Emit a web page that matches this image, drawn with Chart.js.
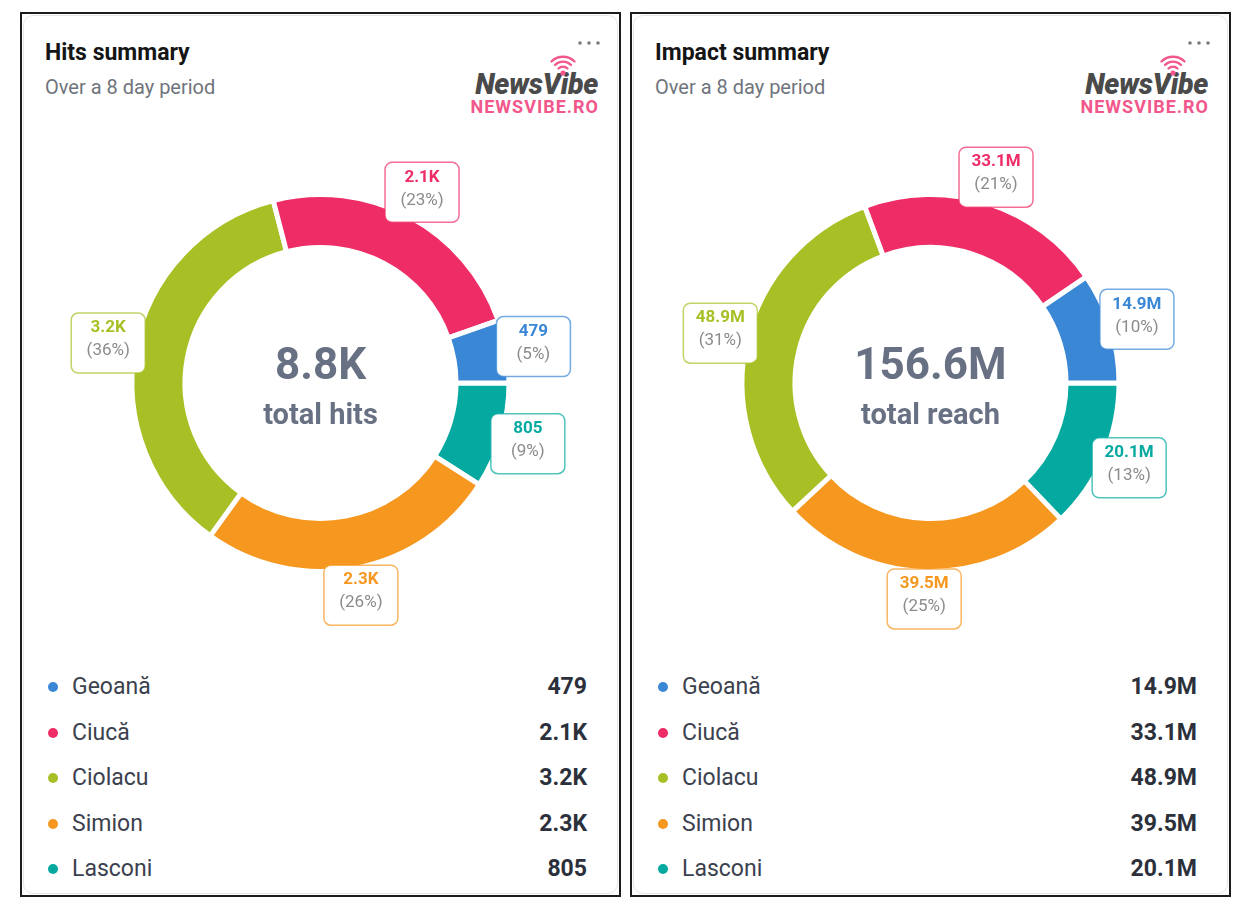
<!DOCTYPE html>
<html><head><meta charset="utf-8">
<script src="https://cdn.jsdelivr.net/npm/chart.js@4.4.1/dist/chart.umd.min.js"></script>
<style>
html,body{margin:0;padding:0;background:#fff;width:1250px;height:914px;overflow:hidden;font-family:Roboto,'Noto Sans',sans-serif;}
.wrap{position:absolute;top:0;left:0;width:620px;height:914px;}
.frame{position:absolute;left:20px;top:12px;width:601px;height:885px;border:2px solid #1c1c1c;box-sizing:border-box;background:#fff;}
.card{position:absolute;left:1px;top:1px;right:1px;bottom:1px;border:1px solid #e6e6e6;border-radius:10px;}
.abs{position:absolute;white-space:nowrap;}
.title{left:45px;top:39px;font-size:23px;line-height:28px;font-weight:700;color:#151515;}
.sub{left:45px;top:75px;font-size:20px;line-height:24px;color:#6f747c;}
.logo1{right:calc(620px - 598px);top:69px;font-size:28.5px;line-height:32px;font-weight:900;font-style:italic;color:#4a4a4a;letter-spacing:-0.3px;}
.logo2{right:calc(620px - 599px);top:95px;font-size:18px;line-height:24px;font-weight:700;color:#f2578c;letter-spacing:1px;}
.chartbox{position:absolute;left:20px;top:133px;width:601px;height:500px;}
.dot{position:absolute;width:10px;height:10px;border-radius:50%;}
.lname{left:72px;font-size:23px;line-height:28px;color:#3b414e;}
.lval{right:calc(620px - 587px);font-size:23px;line-height:28px;font-weight:700;color:#2b303b;}
</style></head>
<body>
<div id="root"></div>
<script>
// ---- data ----
const categories = ['Geoană', 'Ciucă', 'Ciolacu', 'Simion', 'Lasconi'];
const hitsValues = [479, 2100, 3200, 2300, 805];
const hitsValueLabels = ['479', '2.1K', '3.2K', '2.3K', '805'];
const hitsPercentLabels = ['5%', '23%', '36%', '26%', '9%'];
const hitsTotalLabel = '8.8K';
const reachValues = [14.9, 33.1, 48.9, 39.5, 20.1]; // millions
const reachValueLabels = ['14.9M', '33.1M', '48.9M', '39.5M', '20.1M'];
const reachPercentLabels = ['10%', '21%', '31%', '25%', '13%'];
const reachTotalLabel = '156.6M';
const panelTitles = ['Hits summary', 'Impact summary'];
const panelSubtitle = 'Over a 8 day period';
const centerCaptions = ['total hits', 'total reach'];

// ---- styles ----
const colors = ['#3a87d6', '#ee2d67', '#a8c026', '#f6971f', '#06a9a0'];
function rgba(hex, a) {
  const n = parseInt(hex.slice(1), 16);
  return `rgba(${(n >> 16) & 255},${(n >> 8) & 255},${n & 255},${a})`;
}

const root = document.getElementById('root');

function el(tag, cls, parent, text) {
  const e = document.createElement(tag);
  if (cls) e.className = cls;
  if (text !== undefined) e.textContent = text;
  parent.appendChild(e);
  return e;
}

function buildPanel(dx, title, values, valueLabels, percentLabels, totalLabel, caption) {
  const w = el('div', 'wrap', root);
  w.style.left = dx + 'px';
  const frame = el('div', 'frame', w);
  el('div', 'card', frame);
  el('div', 'abs title', w, title);
  el('div', 'abs sub', w, panelSubtitle);
  el('div', 'abs logo1', w, 'NewsVibe');
  el('div', 'abs logo2', w, 'NEWSVIBE.RO');
  // wifi icon + menu dots
  const svgNS = 'http://www.w3.org/2000/svg';
  const svg = document.createElementNS(svgNS, 'svg');
  svg.setAttribute('width', '620'); svg.setAttribute('height', '130');
  svg.style.position = 'absolute'; svg.style.left = '0'; svg.style.top = '0';
  svg.innerHTML = `
    <circle cx="580" cy="43" r="1.8" fill="#7a7a7a"/>
    <circle cx="589" cy="43" r="1.8" fill="#7a7a7a"/>
    <circle cx="598" cy="43" r="1.8" fill="#7a7a7a"/>
    <circle cx="563" cy="73" r="2.6" fill="#f2578c"/>
    <path d="M558.5 68.5 A6.4 6.4 0 0 1 567.5 68.5" stroke="#f2578c" stroke-width="2.3" fill="none" stroke-linecap="round"/>
    <path d="M555 65 A11.3 11.3 0 0 1 571 65" stroke="#f2578c" stroke-width="2.3" fill="none" stroke-linecap="round"/>
    <path d="M551.5 61.5 A16.3 16.3 0 0 1 574.5 61.5" stroke="#f2578c" stroke-width="2.3" fill="none" stroke-linecap="round"/>`;
  w.appendChild(svg);

  // legend
  const rowY = [687, 733, 778, 824, 869];
  categories.forEach((c, i) => {
    const d = el('div', 'dot', w);
    d.style.left = '48px'; d.style.top = (rowY[i] - 5) + 'px'; d.style.background = colors[i];
    const nm = el('div', 'abs lname', w, c); nm.style.top = (rowY[i] - 14) + 'px';
    const v = el('div', 'abs lval', w, valueLabels[i]); v.style.top = (rowY[i] - 14) + 'px';
  });

  // chart
  const box = el('div', 'chartbox', w);
  const cv = el('canvas', '', box);
  const rev = a => a.slice().reverse();
  const revColors = rev(colors);

  const labelPlugin = {
    id: 'boxLabels',
    afterDatasetsDraw(chart) {
      const ctx = chart.ctx;
      const meta = chart.getDatasetMeta(0);
      const n = meta.data.length;
      let cx0 = 0, cy0 = 0;
      meta.data.forEach((arc, j) => {
        const i = n - 1 - j;
        const p = arc.getProps(['x', 'y', 'startAngle', 'endAngle', 'outerRadius'], true);
        cx0 = p.x; cy0 = p.y;
        const mid = (p.startAngle + p.endAngle) / 2;
        const r = p.outerRadius - 2.5 + 30;
        const cx = p.x + Math.cos(mid) * r, cy = p.y + Math.sin(mid) * r;
        const bw = 74, bh = 60, rad = 7;
        const x0 = cx - bw / 2, y0 = cy - bh / 2;
        ctx.save();
        ctx.beginPath();
        ctx.moveTo(x0 + rad, y0);
        ctx.arcTo(x0 + bw, y0, x0 + bw, y0 + bh, rad);
        ctx.arcTo(x0 + bw, y0 + bh, x0, y0 + bh, rad);
        ctx.arcTo(x0, y0 + bh, x0, y0, rad);
        ctx.arcTo(x0, y0, x0 + bw, y0, rad);
        ctx.closePath();
        ctx.fillStyle = '#fff';
        ctx.fill();
        ctx.lineWidth = 1.5;
        ctx.strokeStyle = rgba(colors[i], 0.7);
        ctx.stroke();
        ctx.textAlign = 'center';
        ctx.textBaseline = 'middle';
        ctx.fillStyle = colors[i];
        ctx.font = '700 17px Roboto';
        ctx.fillText(valueLabels[i], cx, y0 + 15);
        ctx.fillStyle = '#8b8b8b';
        ctx.font = '400 17px Roboto';
        ctx.fillText('(' + percentLabels[i] + ')', cx, y0 + 38);
        ctx.restore();
      });
      ctx.save();
      ctx.textAlign = 'center';
      ctx.textBaseline = 'alphabetic';
      ctx.fillStyle = '#687083';
      ctx.font = '700 44px Roboto';
      ctx.fillText(totalLabel, cx0, cy0 - 4);
      ctx.font = '700 29px Roboto';
      ctx.fillText(caption, cx0, cy0 + 41);
      ctx.restore();
    }
  };

  new Chart(cv, {
    type: 'doughnut',
    data: {
      labels: rev(categories),
      datasets: [{
        data: rev(values),
        backgroundColor: revColors,
        borderColor: '#ffffff',
        borderWidth: 5,
        hoverOffset: 0
      }]
    },
    options: {
      responsive: true,
      maintainAspectRatio: false,
      animation: false,
      events: [],
      rotation: 90,
      radius: 188.5,
      cutout: '71.9%',
      layout: { padding: 0 },
      plugins: { legend: { display: false }, tooltip: { enabled: false } }
    },
    plugins: [labelPlugin]
  });
}

buildPanel(0, panelTitles[0], hitsValues, hitsValueLabels, hitsPercentLabels, hitsTotalLabel, centerCaptions[0]);
buildPanel(610, panelTitles[1], reachValues, reachValueLabels, reachPercentLabels, reachTotalLabel, centerCaptions[1]);
</script>
</body></html>
